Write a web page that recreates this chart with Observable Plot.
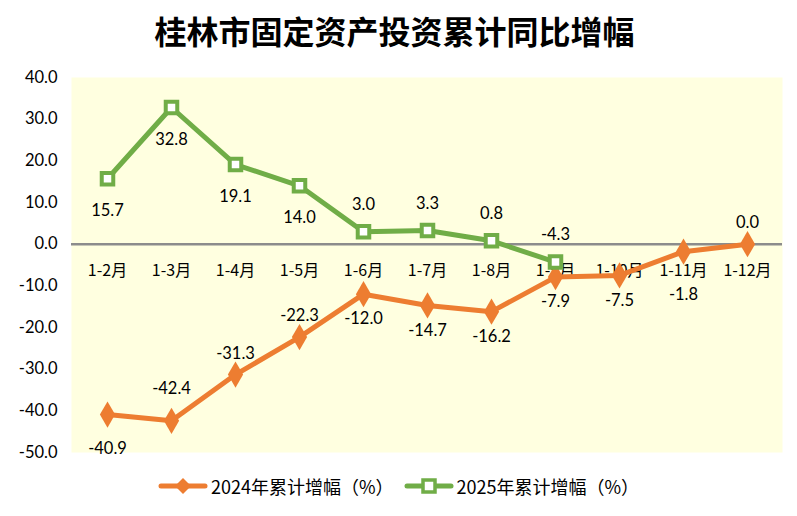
<!DOCTYPE html>
<html><head><meta charset="utf-8">
<script src="https://cdn.jsdelivr.net/npm/d3@7"></script>
<script src="https://cdn.jsdelivr.net/npm/@observablehq/plot@0.6"></script>
<style>
body{margin:0;background:#fff;width:797px;height:516px;overflow:hidden;font-family:"Noto Sans CJK SC",sans-serif;}
#title{height:60px;line-height:60px;text-align:center;font-size:32px;font-weight:bold;color:#000;padding-right:8px;box-sizing:border-box;}
#legend{display:flex;justify-content:center;align-items:center;font-size:18px;color:#000;margin-top:3px;}
.li{display:flex;align-items:center;margin:0 5px;}
</style></head>
<body>
<div id="title">桂林市固定资产投资累计同比增幅</div>
<div id="chart"></div>
<div id="legend"></div>
<script>
const categories = ["1-2月","1-3月","1-4月","1-5月","1-6月","1-7月","1-8月","1-9月","1-10月","1-11月","1-12月"];
const series2024 = [-40.9,-42.4,-31.3,-22.3,-12.0,-14.7,-16.2,-7.9,-7.5,-1.8,0.0];
const series2025 = [15.7,32.8,19.1,14.0,3.0,3.3,0.8,-4.3];
const labelSide2024 = ["farBelow","farAbove","above","above","below","below","below","below","below","farthestBelow","above"];
const labelSide2025 = ["below","below","below","below","above","above","above","above"];
const yTicks = [-50,-40,-30,-20,-10,0,10,20,30,40];
const legendNames = ["2024年累计增幅（%）","2025年累计增幅（%）"];

const c24 = "#ED7D31", c25 = "#70AD47";
const d24 = categories.map((c,i)=>({cat:c, v:series2024[i], side:labelSide2024[i]}));
const d25 = series2025.map((v,i)=>({cat:categories[i], v, side:labelSide2025[i]}));
const font = "Lato, 'Noto Sans CJK SC', sans-serif";
const fmt = d => d.v.toFixed(1);
const side = s => d => d.side === s;

const chart = Plot.plot({
  width: 797, height: 410,
  marginLeft: 71, marginRight: 15, marginTop: 17, marginBottom: 18,
  style: {fontFamily: font, fontSize: "16px", color: "#000", background: "transparent"},
  x: {type: "band", domain: categories, padding: 0, axis: null},
  y: {domain: [-50, 40]},
  marks: [
    Plot.frame({fill: "#FFFFE0", stroke: null}),
    Plot.axisY({ticks: yTicks, tickFormat: d => d.toFixed(1), tickSize: 0, tickPadding: 14, label: null, fontSize: 16.5}),
    Plot.ruleY([0], {stroke: "#8c8c8c", strokeWidth: 2.5}),
    Plot.text(categories, {x: d => d, y: () => 0, dy: 27, text: d => d, fontSize: 16, fontFamily: "'Noto Sans CJK SC', sans-serif"}),
    Plot.line(d24, {x: "cat", y: "v", stroke: c24, strokeWidth: 5}),
    Plot.dot(d24, {x: "cat", y: "v", symbol: "diamond", r: 8, fill: c24, stroke: null}),
    Plot.line(d25, {x: "cat", y: "v", stroke: c25, strokeWidth: 5}),
    Plot.dot(d25, {x: "cat", y: "v", symbol: "square", r: 6.5, fill: "#fff", stroke: c25, strokeWidth: 4}),
    Plot.text(d25, {filter: side("above"), x: "cat", y: "v", text: fmt, dy: -27, fontSize: 16.5}),
    Plot.text(d25, {filter: side("below"), x: "cat", y: "v", text: fmt, dy: 32, fontSize: 16.5}),
    Plot.text(d24, {filter: side("above"), x: "cat", y: "v", text: fmt, dy: -21, fontSize: 16.5}),
    Plot.text(d24, {filter: side("below"), x: "cat", y: "v", text: fmt, dy: 25, fontSize: 16.5}),
    Plot.text(d24, {filter: side("farAbove"), x: "cat", y: "v", text: fmt, dy: -32, fontSize: 16.5}),
    Plot.text(d24, {filter: side("farBelow"), x: "cat", y: "v", text: fmt, dy: 34, fontSize: 16.5}),
    Plot.text(d24, {filter: side("farthestBelow"), x: "cat", y: "v", text: fmt, dy: 43, fontSize: 16.5})
  ]
});
document.getElementById("chart").appendChild(chart);

const lg = document.getElementById("legend");
[[c24,"diamond"],[c25,"square"]].forEach(([col,sym],i)=>{
  const item = document.createElement("div"); item.className="li";
  const svg = d3.create("svg").attr("width",50).attr("height",20);
  svg.append("line").attr("x1",3).attr("x2",47).attr("y1",10).attr("y2",10).attr("stroke",col).attr("stroke-width",5).attr("stroke-linecap","round");
  if(sym==="diamond") svg.append("path").attr("d","M25,2L33,10L25,18L17,10Z").attr("fill",col);
  else svg.append("rect").attr("x",19).attr("y",4).attr("width",12).attr("height",12).attr("fill","#fff").attr("stroke",col).attr("stroke-width",3.5);
  item.appendChild(svg.node());
  const t=document.createElement("span"); t.textContent=legendNames[i]; t.style.marginLeft="3px";
  item.appendChild(t); lg.appendChild(item);
});
</script>
</body></html>
